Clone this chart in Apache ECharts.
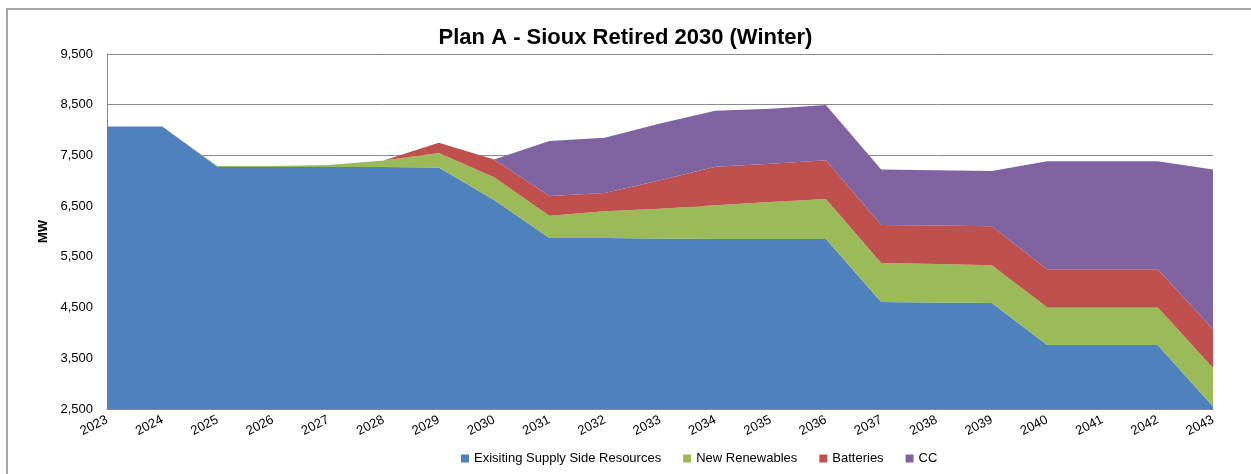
<!DOCTYPE html>
<html>
<head>
<meta charset="utf-8">
<title>Plan A - Sioux Retired 2030 (Winter)</title>
<script src="https://cdn.jsdelivr.net/npm/echarts@6/dist/echarts.min.js"></script>
<style>
  html, body { margin: 0; padding: 0; background: #fff; }
  #main { width: 1251px; height: 474px; }
</style>
</head>
<body>
<div id="main"></div>
<script>
// values (MW)
const years = ['2023', '2024', '2025', '2026', '2027', '2028', '2029', '2030', '2031', '2032', '2033',
  '2034', '2035', '2036', '2037', '2038', '2039', '2040', '2041', '2042', '2043']
const existing = [8070, 8070, 7270, 7270, 7270, 7270, 7260, 6620, 5870, 5870, 5860,
  5850, 5850, 5850, 4610, 4600, 4590, 3760, 3760, 3760, 2550]
const renewables = [0, 0, 20, 20, 40, 130, 290, 450, 440, 530, 590,
  670, 730, 790, 770, 760, 745, 746, 746, 746, 760]
const batteries = [0, 0, 0, 0, 0, 0, 200, 350, 390, 360, 560,
  755, 757, 763, 750, 757, 770, 750, 750, 750, 763]
const cc = [0, 0, 0, 0, 0, 0, 0, 0, 1085, 1090, 1120,
  1105, 1085, 1090, 1093, 1091, 1090, 2131, 2131, 2131, 3150]
const yTicks = { min: 2500, max: 9500, step: 1000 }

const fontName = 'Liberation Sans'

let myChart = echarts.init(document.getElementById('main'))

function areaSeries (name, data, color) {
  return {
    name: name,
    type: 'line',
    stack: 'total',
    data: data,
    symbol: 'none',
    lineStyle: { width: 0 },
    areaStyle: { color: color, opacity: 1 },
    itemStyle: { color: color },
    emphasis: { disabled: true }
  }
}

let option = {
  animation: false,
  title: {
    text: 'Plan A - Sioux Retired 2030 (Winter)',
    left: 'center',
    top: 22,
    textStyle: { fontFamily: fontName, fontSize: 22, fontWeight: 'bold', color: '#000' }
  },
  legend: {
    bottom: 4,
    left: 456,
    itemWidth: 8,
    itemHeight: 8,
    itemGap: 22,
    icon: 'rect',
    textStyle: { fontFamily: fontName, fontSize: 13, color: '#000' },
    data: ['Exisiting Supply Side Resources', 'New Renewables', 'Batteries', 'CC']
  },
  graphic: [{
    type: 'rect',
    shape: { x: 7, y: 9, width: 1400, height: 600 },
    style: { fill: 'none', stroke: '#8a8a8a', lineWidth: 1.5 },
    silent: true
  }],
  grid: {
    left: 107,
    right: 38,
    top: 54,
    bottom: 65
  },
  xAxis: {
    type: 'category',
    boundaryGap: false,
    data: years,
    axisLine: { lineStyle: { color: '#8a8a8a' } },
    axisTick: { show: false },
    axisLabel: {
      rotate: 27,
      margin: 10,
      interval: 0,
      fontFamily: fontName,
      fontSize: 13,
      color: '#000'
    }
  },
  yAxis: {
    type: 'value',
    min: yTicks.min,
    max: yTicks.max,
    interval: yTicks.step,
    name: 'MW',
    nameLocation: 'middle',
    nameGap: 53,
    nameTextStyle: { fontFamily: fontName, fontSize: 13, fontWeight: 'bold', color: '#000' },
    axisLine: { show: true, lineStyle: { color: '#8a8a8a' } },
    axisTick: { show: false },
    splitLine: { lineStyle: { color: '#8a8a8a', width: 1 } },
    axisLabel: {
      margin: 14,
      fontFamily: fontName,
      fontSize: 13,
      color: '#000',
      formatter: function (v) { return v.toLocaleString('en-US') }
    }
  },
  series: [
    areaSeries('Exisiting Supply Side Resources', existing, '#4F81BD'),
    areaSeries('New Renewables', renewables, '#9BBB59'),
    areaSeries('Batteries', batteries, '#C0504D'),
    areaSeries('CC', cc, '#8064A2')
  ]
}
myChart.setOption(option, true)
</script>
</body>
</html>
